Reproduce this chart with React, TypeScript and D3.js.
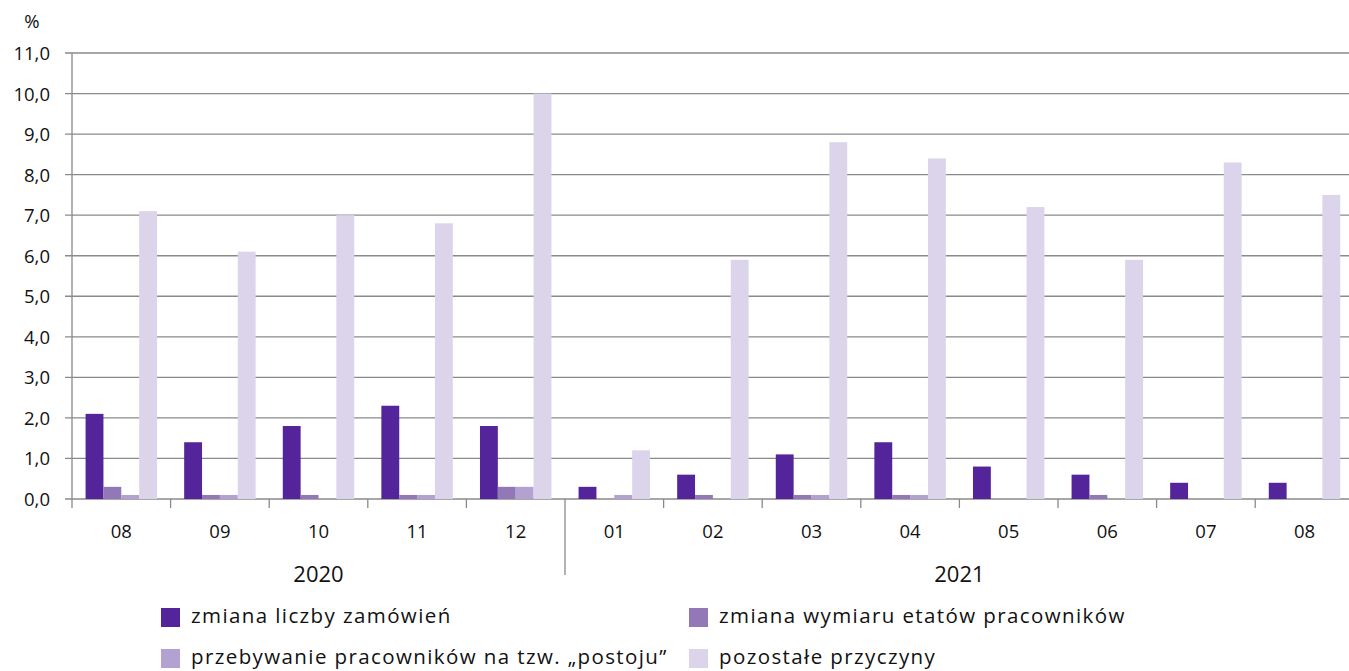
import * as d3 from 'd3';
import React, { useRef, useEffect } from 'react';

const months = ['08', '09', '10', '11', '12', '01', '02', '03', '04', '05', '06', '07', '08'];
const years = [
  { label: '2020', from: 0, to: 5 },
  { label: '2021', from: 5, to: 13 },
];
const seriesNames = [
  'zmiana liczby zamówień',
  'zmiana wymiaru etatów pracowników',
  'przebywanie pracowników na tzw. „postoju”',
  'pozostałe przyczyny',
];
const orders = [2.1, 1.4, 1.8, 2.3, 1.8, 0.3, 0.6, 1.1, 1.4, 0.8, 0.6, 0.4, 0.4];
const hours = [0.3, 0.1, 0.1, 0.1, 0.3, 0, 0.1, 0.1, 0.1, 0, 0.1, 0, 0];
const downtime = [0.1, 0.1, 0, 0.1, 0.3, 0.1, 0, 0.1, 0.1, 0, 0, 0, 0];
const other = [7.1, 6.1, 7.0, 6.8, 10.0, 1.2, 5.9, 8.8, 8.4, 7.2, 5.9, 8.3, 7.5];
const yTicks = [0, 1, 2, 3, 4, 5, 6, 7, 8, 9, 10, 11];
const colors = ['#53249a', '#9278b6', '#b3a1d2', '#dcd4eb'];

function App() {
  const ref = useRef(null);

  useEffect(() => {
    const svg = d3.select(ref.current);
    svg.selectAll('*').remove();
    draw(svg);
  }, []);

  const draw = (svg) => {
    const font = '"Open Sans", sans-serif';
    const left = 72, top = 53, bottom = 499, bandW = 98.6;
    const series = [orders, hours, downtime, other];

    const x = d3.scaleBand().domain(d3.range(months.length)).range([left, left + bandW * months.length]).paddingInner(0).paddingOuter(0);
    const inner = d3.scaleBand().domain(d3.range(4)).range([0, x.bandwidth()]).paddingOuter(0.76).paddingInner(0);
    const y = d3.scaleLinear().domain([0, 11]).range([bottom, top]);

    // gridlines
    svg.append('g').selectAll('line').data(yTicks).enter().append('line')
      .attr('x1', left - 7).attr('x2', 1349)
      .attr('y1', d => y(d)).attr('y2', d => y(d))
      .attr('stroke', '#8a8a8a').attr('stroke-width', 1.3);

    svg.append('g').selectAll('text').data(yTicks).enter().append('text')
      .attr('x', 50).attr('y', d => y(d) + 7)
      .attr('text-anchor', 'end')
      .attr('font-family', font).attr('font-size', 18.5).attr('fill', '#111')
      .text(d => d3.format('.1f')(d).replace('.', ','));

    svg.append('text').attr('x', 32).attr('y', 28).attr('text-anchor', 'middle')
      .attr('font-family', font).attr('font-size', 18.5).attr('fill', '#111').text('%');

    // bars
    series.forEach((vals, si) => {
      svg.append('g').selectAll('rect').data(vals).enter().append('rect')
        .attr('x', (d, i) => x(i) + inner(si))
        .attr('width', inner.bandwidth())
        .attr('y', d => y(d))
        .attr('height', d => y(0) - y(d))
        .attr('fill', colors[si]);
    });

    // axes
    svg.append('line').attr('x1', left).attr('x2', left).attr('y1', top).attr('y2', bottom)
      .attr('stroke', '#8a8a8a').attr('stroke-width', 1.3);
    svg.append('g').selectAll('line').data(d3.range(months.length + 1)).enter().append('line')
      .attr('x1', i => left + i * bandW).attr('x2', i => left + i * bandW)
      .attr('y1', bottom).attr('y2', i => (i === 5 ? 575 : 508))
      .attr('stroke', '#8a8a8a').attr('stroke-width', 1.3);

    svg.append('g').selectAll('text').data(months).enter().append('text')
      .attr('x', (d, i) => x(i) + x.bandwidth() / 2).attr('y', 538)
      .attr('text-anchor', 'middle')
      .attr('font-family', font).attr('font-size', 18.5).attr('fill', '#111')
      .text(d => d);

    svg.append('g').selectAll('text').data(years).enter().append('text')
      .attr('x', d => (left + d.from * bandW + left + d.to * bandW) / 2).attr('y', 582)
      .attr('text-anchor', 'middle')
      .attr('font-family', font).attr('font-size', 22).attr('fill', '#111')
      .text(d => d.label);

    // legend
    const legendPos = [[161, 608], [689, 608], [161, 649], [689, 649]];
    seriesNames.forEach((name, i) => {
      const [lx, ly] = legendPos[i];
      svg.append('rect').attr('x', lx).attr('y', ly).attr('width', 19).attr('height', 19).attr('fill', colors[i]);
      svg.append('text').attr('x', lx + 30).attr('y', ly + 15)
        .attr('font-family', font).attr('font-size', 20.5).attr('letter-spacing', 1.4)
        .attr('fill', '#111').text(name);
    });
  };

  return (
    <svg ref={ref} width={1349} height={671} style={{ position: 'absolute', left: 0, top: 0, background: '#fff' }} />
  );
}

export default App;
